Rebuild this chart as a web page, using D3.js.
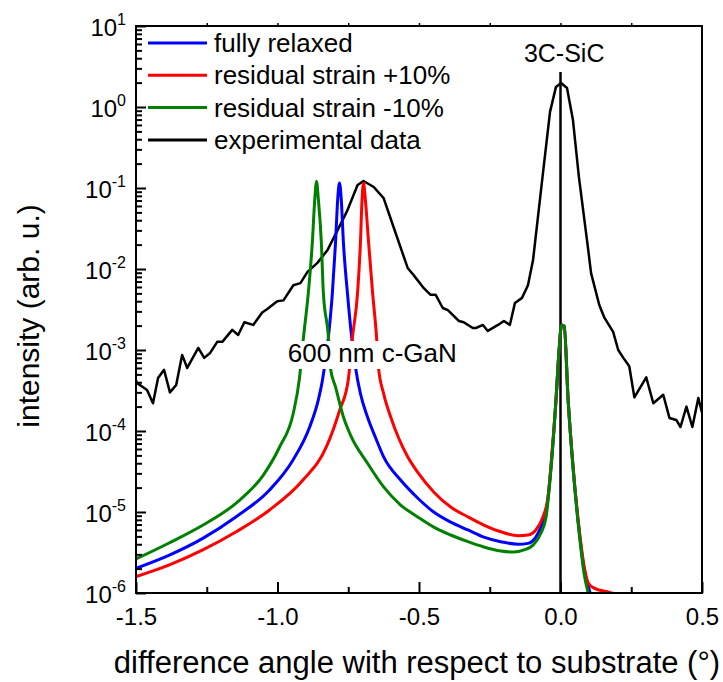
<!DOCTYPE html>
<html>
<head>
<meta charset="utf-8">
<script src="https://cdn.jsdelivr.net/npm/d3@7"></script>
<style>
  body { margin: 0; background: #fff; }
  text { font-family: "Liberation Sans", Arial, sans-serif; fill: #000; }
</style>
</head>
<body>
<div id="chart"></div>
<script>
const width = 723;
const height = 682;
const marginLeft = 136;
const marginRight = 21;
const marginTop = 26;
const marginBottom = 89;

// [angle (deg), intensity]
const relaxed = [
  [-1.500, 2.02e-6], [-1.382, 2.94e-6], [-1.264, 4.73e-6], [-1.146, 8.75e-6], [-1.028, 1.87e-5],
  [-0.945, 4.39e-5], [-0.886, 1.13e-4], [-0.856, 2.41e-4], [-0.841, 4.27e-4], [-0.820, 1.45e-3],
  [-0.806, 5.1e-3], [-0.795, 2.1e-2], [-0.787, 0.075], [-0.781, 0.115], [-0.775, 0.075],
  [-0.767, 2.1e-2], [-0.753, 5.1e-3], [-0.738, 1.45e-3], [-0.724, 6.0e-4], [-0.707, 2.9e-4],
  [-0.682, 1.49e-4], [-0.653, 8.2e-5], [-0.625, 4.8e-5], [-0.565, 2.48e-5], [-0.505, 1.49e-5],
  [-0.448, 1.0e-5], [-0.388, 7.5e-6], [-0.327, 6.0e-6], [-0.271, 4.9e-6], [-0.211, 4.3e-6],
  [-0.150, 4.0e-6], [-0.115, 4.1e-6], [-0.087, 4.9e-6], [-0.069, 6.5e-6], [-0.051, 1.0e-5],
  [-0.033, 3.8e-5], [-0.016, 2.4e-4], [-0.005, 1.0e-3], [0.004, 2.04e-3], [0.013, 1.97e-3],
  [0.027, 2.4e-4], [0.044, 3.7e-5], [0.066, 5.8e-6], [0.083, 2.0e-6], [0.100, 1.15e-6],
  [0.113, 8e-7], [0.130, 5e-7]
];

const strainPlus = [
  [-1.500, 1.59e-6], [-1.382, 2.22e-6], [-1.264, 3.4e-6], [-1.146, 5.7e-6], [-1.028, 1.06e-5],
  [-0.910, 2.48e-5], [-0.827, 6.4e-5], [-0.780, 1.82e-4], [-0.750, 4.27e-4], [-0.735, 1.45e-3],
  [-0.717, 5.1e-3], [-0.707, 2.1e-2], [-0.701, 0.075], [-0.696, 0.115], [-0.690, 0.075],
  [-0.678, 2.1e-2], [-0.664, 5.1e-3], [-0.650, 1.45e-3], [-0.643, 6.0e-4], [-0.625, 2.9e-4],
  [-0.600, 1.49e-4], [-0.572, 8.2e-5], [-0.540, 4.8e-5], [-0.505, 3.1e-5], [-0.448, 1.77e-5],
  [-0.388, 1.15e-5], [-0.327, 8.7e-6], [-0.271, 6.9e-6], [-0.211, 5.7e-6], [-0.150, 5.1e-6],
  [-0.115, 5.2e-6], [-0.087, 6.0e-6], [-0.062, 8.7e-6], [-0.044, 1.53e-5], [-0.033, 4.0e-5],
  [-0.016, 2.4e-4], [-0.005, 1.0e-3], [0.004, 2.04e-3], [0.013, 1.97e-3], [0.027, 2.4e-4],
  [0.044, 3.8e-5], [0.066, 6.2e-6], [0.083, 2.2e-6], [0.098, 1.33e-6], [0.119, 1.15e-6],
  [0.168, 1.03e-6], [0.204, 9.5e-7], [0.250, 8e-7]
];

const strainMinus = [
  [-1.500, 2.63e-6], [-1.383, 4.14e-6], [-1.263, 6.9e-6], [-1.146, 1.29e-5], [-1.050, 2.86e-5],
  [-0.993, 6.3e-5], [-0.944, 1.67e-4], [-0.923, 4.3e-4], [-0.908, 1.45e-3], [-0.891, 5.1e-3],
  [-0.877, 2.1e-2], [-0.868, 0.075], [-0.862, 0.12], [-0.856, 0.075], [-0.845, 2.1e-2],
  [-0.838, 5.1e-3], [-0.820, 1.45e-3], [-0.813, 6.0e-4], [-0.795, 3.5e-4], [-0.767, 1.49e-4],
  [-0.742, 8.9e-5], [-0.682, 4.0e-5], [-0.625, 2.04e-5], [-0.565, 1.22e-5], [-0.505, 8.7e-6],
  [-0.448, 6.5e-6], [-0.388, 5.2e-6], [-0.327, 4.3e-6], [-0.271, 3.7e-6], [-0.211, 3.3e-6],
  [-0.165, 3.2e-6], [-0.129, 3.4e-6], [-0.097, 3.9e-6], [-0.069, 5.5e-6], [-0.051, 8.7e-6],
  [-0.033, 3.6e-5], [-0.016, 2.4e-4], [-0.005, 1.0e-3], [0.004, 2.04e-3], [0.013, 1.97e-3],
  [0.027, 2.4e-4], [0.044, 3.6e-5], [0.066, 5.5e-6], [0.083, 1.77e-6], [0.101, 9e-7],
  [0.120, 5e-7]
];

const experimental = [
  [-1.500, 4.2e-4], [-1.496, 3.9e-4], [-1.461, 3.2e-4], [-1.440, 2.2e-4], [-1.422, 4.5e-4],
  [-1.401, 5.7e-4], [-1.380, 3.0e-4], [-1.358, 3.7e-4], [-1.337, 8.7e-4], [-1.319, 6.0e-4],
  [-1.280, 1.06e-3], [-1.259, 8.0e-4], [-1.238, 9.2e-4], [-1.213, 1.26e-3], [-1.195, 1.26e-3],
  [-1.160, 1.77e-3], [-1.139, 1.53e-3], [-1.117, 2.2e-3], [-1.086, 2.04e-3], [-1.054, 2.9e-3],
  [-1.036, 3.2e-3], [-1.001, 4.0e-3], [-0.979, 4.1e-3], [-0.944, 6.3e-3], [-0.919, 6.7e-3],
  [-0.894, 9.2e-3], [-0.859, 1.19e-2], [-0.823, 1.72e-2], [-0.788, 3.0e-2], [-0.753, 5.3e-2],
  [-0.717, 0.109], [-0.696, 0.122], [-0.660, 0.103], [-0.625, 0.075], [-0.590, 0.033],
  [-0.540, 1.03e-2], [-0.519, 8.4e-3], [-0.483, 5.8e-3], [-0.459, 4.8e-3], [-0.441, 4.8e-3],
  [-0.416, 3.3e-3], [-0.398, 3.1e-3], [-0.359, 2.28e-3], [-0.342, 2.2e-3], [-0.310, 1.87e-3],
  [-0.299, 1.87e-3], [-0.274, 2.04e-3], [-0.257, 1.72e-3], [-0.221, 2.04e-3], [-0.200, 2.28e-3],
  [-0.179, 2.04e-3], [-0.161, 3.8e-3], [-0.136, 4.4e-3], [-0.115, 6.3e-3], [-0.097, 1.29e-2],
  [-0.062, 0.153], [-0.037, 0.87], [-0.016, 1.77], [0.002, 1.98], [0.023, 1.72],
  [0.044, 0.69], [0.065, 0.137], [0.098, 1.72e-2], [0.108, 8.9e-3], [0.137, 3.6e-3],
  [0.154, 2.55e-3], [0.186, 1.67e-3], [0.204, 1.0e-3], [0.222, 8.0e-4], [0.243, 6.3e-4],
  [0.261, 2.6e-4], [0.303, 4.6e-4], [0.328, 2.2e-4], [0.363, 2.8e-4], [0.385, 1.45e-4],
  [0.409, 1.37e-4], [0.424, 1.12e-4], [0.445, 2.0e-4], [0.466, 1.12e-4], [0.487, 2.55e-4],
  [0.505, 1.45e-4]
];

const substrateLine = [[0, 1e-6], [0, 2.7]];

const seriesNames = ["fully relaxed", "residual strain +10%", "residual strain -10%", "experimental data"];
const seriesColors = ["#0000ff", "#ff0000", "#008000", "#000000"];

const xTicks = [-1.5, -1.0, -0.5, 0.0, 0.5];
const xMinorTicks = [-1.25, -0.75, -0.25, 0.25];
const yExponents = [-6, -5, -4, -3, -2, -1, 0, 1];

const svg = d3.select("#chart").append("svg")
    .attr("width", width)
    .attr("height", height);

const x = d3.scaleLinear()
    .domain([-1.5, 0.5])
    .range([marginLeft, width - marginRight]);

const y = d3.scaleLog()
    .domain([1e-6, 10])
    .range([height - marginBottom, marginTop]);

const plotW = width - marginRight - marginLeft;
const plotH = height - marginBottom - marginTop;

svg.append("clipPath").attr("id", "clip")
  .append("rect")
    .attr("x", marginLeft)
    .attr("y", marginTop)
    .attr("width", plotW)
    .attr("height", plotH);

const plot = svg.append("g").attr("clip-path", "url(#clip)");

const line = d3.line()
    .x(d => x(d[0]))
    .y(d => y(d[1]));

const smooth = d3.line()
    .x(d => x(d[0]))
    .y(d => y(d[1]))
    .curve(d3.curveMonotoneX);

// experimental data + substrate marker
plot.append("path")
    .datum(experimental)
    .attr("d", line)
    .attr("fill", "none")
    .attr("stroke", "#000")
    .attr("stroke-width", 2.5)
    .attr("stroke-linejoin", "round");

plot.append("path")
    .datum(substrateLine)
    .attr("d", line)
    .attr("fill", "none")
    .attr("stroke", "#000")
    .attr("stroke-width", 2.5);

// simulations
[relaxed, strainPlus, strainMinus].forEach((data, i) => {
    plot.append("path")
        .datum(data)
        .attr("d", smooth)
        .attr("fill", "none")
        .attr("stroke", seriesColors[i])
        .attr("stroke-width", 3)
        .attr("stroke-linejoin", "round");
});

// x axis, ticks pointing inward
const xAxis = svg.append("g")
    .attr("transform", `translate(0,${height - marginBottom})`)
    .call(d3.axisBottom(x).tickValues(xTicks).tickSizeInner(-11).tickSizeOuter(0)
        .tickPadding(14).tickFormat(d3.format(".1f")));
xAxis.select(".domain").remove();
xAxis.selectAll("line").attr("stroke-width", 2);
xAxis.selectAll("text")
    .style("font-size", "24px")
    .style("font-family", "'Liberation Sans', Arial, sans-serif")
    .attr("dy", "0.75em")
    .text(d => d < 0 ? "-" + Math.abs(d).toFixed(1) : d.toFixed(1));

svg.append("g")
    .attr("transform", `translate(0,${height - marginBottom})`)
    .call(d3.axisBottom(x).tickValues(xMinorTicks).tickSizeInner(-6).tickSizeOuter(0).tickFormat(""))
    .call(g => g.select(".domain").remove())
    .selectAll("line").attr("stroke-width", 2);

// small ticks on the top edge
svg.append("g")
    .attr("transform", `translate(0,${marginTop})`)
    .call(d3.axisTop(x).tickValues(d3.range(-1.25, 0.5, 0.25)).tickSizeInner(3).tickSizeOuter(0).tickFormat(""))
    .call(g => g.select(".domain").remove())
    .selectAll("line").attr("stroke-width", 1.5);

// y axis (log) ticks pointing inward
const yMajor = yExponents.map(e => Math.pow(10, e));
const yMinor = [];
yExponents.slice(0, -1).forEach(e => {
    for (let m = 2; m <= 9; m++) yMinor.push(m * Math.pow(10, e));
});

svg.append("g")
    .attr("transform", `translate(${marginLeft},0)`)
    .call(d3.axisLeft(y).tickValues(yMinor).tickSizeInner(-6).tickSizeOuter(0).tickFormat(""))
    .call(g => g.select(".domain").remove())
    .selectAll("line").attr("stroke-width", 2);

const yAxis = svg.append("g")
    .attr("transform", `translate(${marginLeft},0)`)
    .call(d3.axisLeft(y).tickValues(yMajor).tickSizeInner(-10).tickSizeOuter(0).tickFormat(""));
yAxis.select(".domain").remove();
yAxis.selectAll("line").attr("stroke-width", 2);

yExponents.forEach(e => {
    const t = svg.append("text")
        .attr("x", marginLeft - 10)
        .attr("y", y(Math.pow(10, e)) + 10)
        .attr("text-anchor", "end")
        .style("font-size", "24px");
    t.append("tspan").text("10");
    t.append("tspan")
        .attr("dy", -11)
        .style("font-size", "16px")
        .text(e);
});

// frame
svg.append("rect")
    .attr("x", marginLeft)
    .attr("y", marginTop)
    .attr("width", plotW)
    .attr("height", plotH)
    .attr("fill", "none")
    .attr("stroke", "#000")
    .attr("stroke-width", 2);

// annotations
const ganBg = svg.append("rect").attr("fill", "#fff");
const ganLabel = svg.append("text")
    .attr("x", x(-0.665))
    .attr("y", 362)
    .attr("text-anchor", "middle")
    .style("font-size", "26px")
    .text("600 nm c-GaN");
const bb = ganLabel.node().getBBox();
ganBg
    .attr("x", bb.x - 2)
    .attr("y", bb.y + 3)
    .attr("width", bb.width + 4)
    .attr("height", bb.height - 2);

svg.append("text")
    .attr("x", x(0.013))
    .attr("y", 62)
    .attr("text-anchor", "middle")
    .style("font-size", "25px")
    .text("3C-SiC");

// legend
const legend = svg.append("g");
seriesNames.forEach((name, i) => {
    const ly = 43 + i * 32.3;
    legend.append("line")
        .attr("x1", 148).attr("x2", 207)
        .attr("y1", ly).attr("y2", ly)
        .attr("stroke", seriesColors[i])
        .attr("stroke-width", 3);
    legend.append("text")
        .attr("x", 214)
        .attr("y", ly + 9)
        .style("font-size", "26px")
        .text(name);
});

// axis titles
svg.append("text")
    .attr("x", 417)
    .attr("y", 673)
    .attr("text-anchor", "middle")
    .style("font-size", "31px")
    .text("difference angle with respect to substrate (°)");

svg.append("text")
    .attr("transform", `translate(39,${316}) rotate(-90)`)
    .attr("text-anchor", "middle")
    .style("font-size", "30px")
    .text("intensity (arb. u.)");
</script>
</body>
</html>
